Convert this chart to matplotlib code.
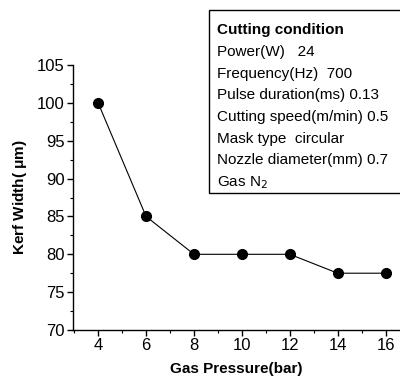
import matplotlib.pyplot as plt
import numpy as np

plt.rcParams['font.family'] = ['Liberation Sans', 'DejaVu Sans']

pressure = [4, 6, 8, 10, 12, 14, 16]
kerf = [100, 85, 80, 80, 80, 77.5, 77.5]

conditions = ['Power(W)   24',
              'Frequency(Hz)  700',
              'Pulse duration(ms) 0.13',
              'Cutting speed(m/min) 0.5',
              'Mask type  circular',
              'Nozzle diameter(mm) 0.7',
              r'Gas N$_2$']

fig = plt.figure(figsize=(4.0, 3.81), dpi=100)
ax = fig.add_axes([0.1825, 0.134, 0.8175, 0.695])

ax.plot(pressure, kerf, color='black', linewidth=0.8, marker='o', markersize=7, zorder=3)

ax.set_xlim(2.95, 16.6)
ax.set_ylim(70, 105)
ax.set_xticks(np.arange(4, 17, 2))
ax.set_xticks(np.arange(3, 17, 1), minor=True)
ax.set_yticks(np.arange(70, 106, 5))
ax.set_yticks(np.arange(70, 106, 2.5), minor=True)

ax.spines['top'].set_visible(False)
ax.spines['right'].set_visible(False)
ax.spines['left'].set_linewidth(1.0)
ax.spines['bottom'].set_linewidth(1.0)
ax.tick_params(which='major', direction='out', length=4, width=1, labelsize=12, pad=2)
ax.tick_params(which='minor', direction='out', length=2, width=0.8)

ax.set_xlabel('Gas Pressure(bar)', fontsize=11, fontweight='bold', labelpad=6)
ax.set_ylabel(r'Kerf Width( $\mathregular{\mu}$m)', fontsize=11, fontweight='bold', labelpad=6)

# info box
box = plt.Rectangle((209/400, 1-193/381), 1.01-209/400, (193-10)/381,
                    transform=fig.transFigure, fill=True, facecolor='white',
                    edgecolor='black', linewidth=1.0, zorder=5)
fig.patches.append(box)
fig.text(217/400, 1-30/381, 'Cutting condition', fontsize=11, fontweight='bold',
         va='center', ha='left', zorder=6)
for i, line in enumerate(conditions):
    fig.text(217/400, 1-(52+i*21.7)/381, line, fontsize=11, va='center', ha='left', zorder=6)

plt.savefig('out.png', dpi=100)
